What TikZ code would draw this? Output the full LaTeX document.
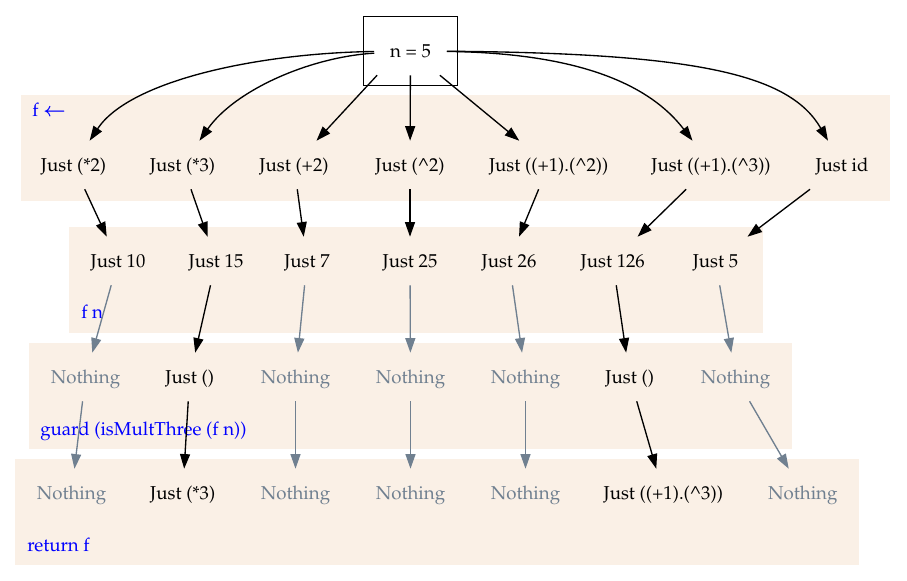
\documentclass[tikz,border=0pt]{standalone}
\usepackage{amsmath}
\usepackage[T1]{fontenc}
\usepackage{mathpazo}
\usepackage{tikz}
\usepackage{xcolor}
\usetikzlibrary{arrows.meta,fit}
\definecolor{Linen}{HTML}{FAF0E6}
\definecolor{SlateGray}{HTML}{708090}
\definecolor{LabelBlue}{HTML}{0000FF}
\newcommand\caret{\textasciicircum}
\newcommand\nothingtxt{Nothing}
\tikzstyle{valnode} = [rectangle, minimum width=54pt, minimum height=36pt, inner xsep=7.9pt, inner ysep=0pt, text height=11pt, text depth=1.2pt, font=\fontsize{14}{17}\selectfont]
\tikzstyle{jn} = [valnode, text=black]
\tikzstyle{nn} = [valnode, text=SlateGray]
\tikzstyle{cl} = [fill=Linen, draw=none]
\tikzstyle{cllabel} = [anchor=base west, inner sep=0pt, text=LabelBlue, font=\fontsize{14}{17}\selectfont]
\tikzstyle{je} = [-{Triangle[length=11pt, width=7.5pt]}, line width=1pt, draw=black]
\tikzstyle{ne} = [je, draw=SlateGray, fill=SlateGray]

\begin{document}
\begin{tikzpicture}[x=0.75pt, y=-0.75pt]
\useasboundingbox (0,0) rectangle (907,581);
\fill[cl] (21,95) rectangle (890,201);
\fill[cl] (69,227) rectangle (763,333);
\fill[cl] (29,343) rectangle (792,449);
\fill[cl] (15,459) rectangle (859,565);
\node[cllabel] (lf) at (32,117) {f $\boldsymbol{\leftarrow}$};
\node[cllabel] (lfn) at (81,318) {f n};
\node[cllabel] (lguard) at (40,435) {guard (isMultThree (f n))};
\node[cllabel] (lret) at (27,551) {return f};
\node[jn] (n) at (410.5,51) {n = 5};
\node[draw, line width=1pt, inner sep=7.9pt, fit=(n)] (nbox) {};
\node[jn] (j1) at (73.5,165) {Just (*2)};
\node[jn] (j2) at (182.5,165) {Just (*3)};
\node[jn] (j3) at (294,165) {Just (+2)};
\node[jn] (j4) at (410,165) {Just (\caret 2)};
\node[jn] (j5) at (548.7,165) {Just ((+1).(\caret 2))};
\node[jn] (j6) at (711,165) {Just ((+1).(\caret 3))};
\node[jn] (j7) at (842,165) {Just id};
\node[jn] (v1) at (118,261) {Just 10};
\node[jn] (v2) at (216,261) {Just 15};
\node[jn] (v3) at (307,261) {Just 7};
\node[jn] (v4) at (410,261) {Just 25};
\node[jn] (v5) at (509,261) {Just 26};
\node[jn] (v6) at (612.7,261) {Just 126};
\node[jn] (v7) at (715.5,261) {Just 5};
\node[nn] (g1) at (85.5,377) {\nothingtxt};
\node[jn] (g2) at (189.7,377) {Just ()};
\node[nn] (g3) at (295.5,377) {\nothingtxt};
\node[nn] (g4) at (410.5,377) {\nothingtxt};
\node[nn] (g5) at (525.5,377) {\nothingtxt};
\node[jn] (g6) at (629.7,377) {Just ()};
\node[nn] (g7) at (735.5,377) {\nothingtxt};
\node[nn] (r1) at (71.5,493) {\nothingtxt};
\node[jn] (r2) at (182.7,493) {Just (*3)};
\node[nn] (r3) at (295.5,493) {\nothingtxt};
\node[nn] (r4) at (410.5,493) {\nothingtxt};
\node[nn] (r5) at (525.5,493) {\nothingtxt};
\node[jn] (r6) at (663.3,493) {Just ((+1).(\caret 3))};
\node[nn] (r7) at (802.8,493) {\nothingtxt};
\draw[je] (n) .. controls (260,53) and (130,80) .. (j1);
\draw[je] (n) .. controls (310,57) and (235,90) .. (j2);
\draw[je] (n.216) -- (j3);
\draw[je] (n) -- (j4);
\draw[je] (n) -- (j5);
\draw[je] (n) .. controls (580,53) and (650,85) .. (j6);
\draw[je] (n) .. controls (700,53) and (790,75) .. (j7);
\draw[je] (j1) -- (v1);
\draw[je] (j2) -- (v2);
\draw[je] (j3) -- (v3);
\draw[je] (j4) -- (v4);
\draw[je] (j5) -- (v5);
\draw[je] (j6) -- (v6);
\draw[je] (j7) -- (v7);
\draw[ne] (v1) -- (g1);
\draw[je] (v2) -- (g2);
\draw[ne] (v3) -- (g3);
\draw[ne] (v4) -- (g4);
\draw[ne] (v5) -- (g5);
\draw[je] (v6) -- (g6);
\draw[ne] (v7) -- (g7);
\draw[ne] (g1) -- (r1);
\draw[je] (g2) -- (r2);
\draw[ne] (g3) -- (r3);
\draw[ne] (g4) -- (r4);
\draw[ne] (g5) -- (r5);
\draw[je] (g6) -- (r6);
\draw[ne] (g7) -- (r7);
\end{tikzpicture}
\end{document}
